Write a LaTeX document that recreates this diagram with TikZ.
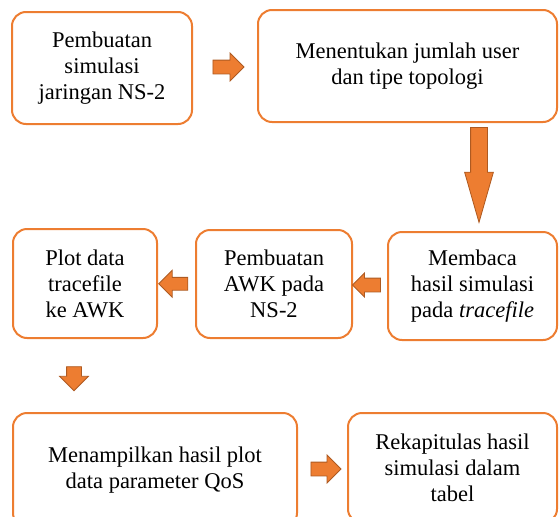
\documentclass[tikz,border=0pt]{standalone}
\usepackage{fontspec}
\setmainfont{Liberation Serif}
\usetikzlibrary{shapes.arrows,calc}

\definecolor{boxorange}{HTML}{ED7D31}
\definecolor{arrowedge}{HTML}{AE5A21}

\tikzstyle{flowbox} = [draw=boxorange, line width=2pt, rectangle,
  rounded corners=14pt, align=center, inner sep=0pt,
  font=\fontsize{22.5}{26}\selectfont]
\tikzstyle{blockarrow} = [draw=arrowedge, fill=boxorange, line width=0.8pt,
  single arrow, inner xsep=0pt, inner ysep=6.5pt, single arrow head extend=7pt]
\tikzstyle{downarrow} = [blockarrow, inner xsep=7pt, inner ysep=0pt,
  shape border rotate=270]

\begin{document}
\begin{tikzpicture}[x=1pt,y=-1pt]
        \clip (0,0) rectangle (560,517);

        % top row
        \node [flowbox, minimum width=180pt, minimum height=112pt] (sim)    at (102,68)    {Pembuatan\\simulasi\\jaringan NS-2};
        \node [flowbox, minimum width=299pt, minimum height=112pt] (topo)   at (407.5,66)  {Menentukan jumlah user\\dan tipe topologi};

        % middle row
        \node [flowbox, minimum width=169pt, minimum height=108pt] (baca)   at (472.5,286) {Membaca\\hasil simulasi\\pada \textit{tracefile}};
        \node [flowbox, minimum width=156pt, minimum height=108pt] (awk)    at (274,284)   {Pembuatan\\AWK pada\\NS-2};
        \node [flowbox, minimum width=144pt, minimum height=109pt] (plot)   at (85,283.5)  {Plot data\\tracefile\\ke AWK};

        % bottom row
        \node [flowbox, minimum width=284pt, minimum height=114pt] (tampil) at (155,470)   {Menampilkan hasil plot\\data parameter QoS};
        \node [flowbox, minimum width=209pt, minimum height=110pt] (rekap)  at (452.5,468) {Rekapitulas hasil\\simulasi dalam\\tabel};

        % block arrows
        \node [blockarrow, minimum height=31pt] (a1) at ($(sim.east)!0.5!(topo.west)$) {};
        \node [downarrow, minimum height=95pt, inner xsep=8pt, single arrow head extend=6pt,
               single arrow tip angle=32, anchor=tail] (a2) at (479,127) {};
        \node [blockarrow, minimum height=28pt, single arrow head extend=5pt,
               shape border rotate=180] (a3) at ($(baca.west)!0.5!(awk.east)$) {};
        \node [blockarrow, minimum height=29pt, inner ysep=6pt, shape border rotate=180] (a4) at ($(awk.west)!0.5!(plot.east)$) {};
        \node [downarrow, minimum height=24pt] (a5) at (74,375) {};
        \node [blockarrow, minimum height=30pt] (a6) at ($(tampil.east)!0.5!(rekap.west)$) {};
      \end{tikzpicture}
\end{document}
